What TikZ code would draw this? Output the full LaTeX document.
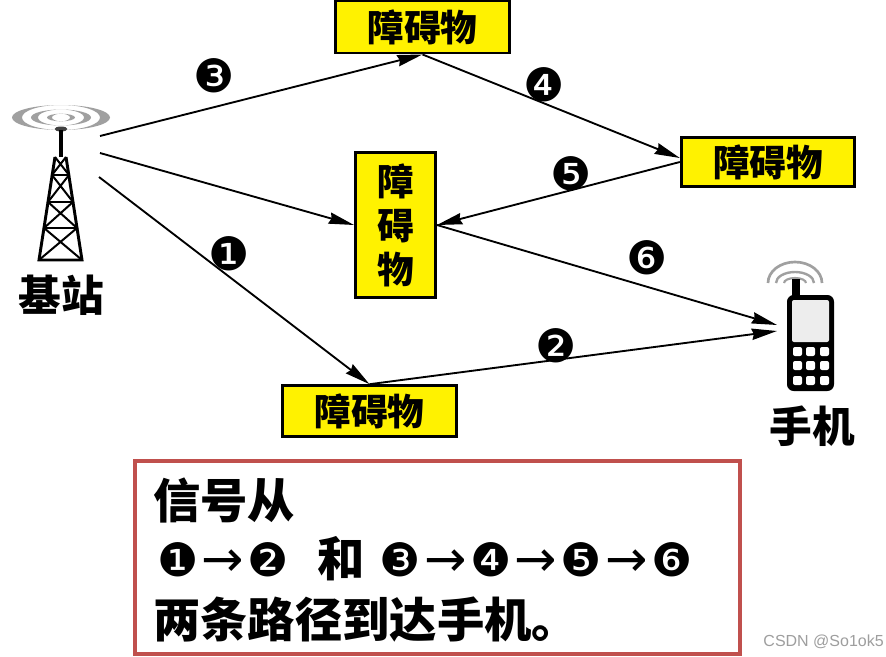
\documentclass[tikz,border=0pt]{standalone}
\usepackage{fontspec}
\usetikzlibrary{arrows.meta,calc}
\newfontfamily\cjk{Noto Sans CJK SC}[BoldFont={Noto Sans CJK SC Black}]
\newfontfamily\dingfont{DejaVu Sans}
\newfontfamily\wm{Liberation Sans}
\definecolor{boxred}{HTML}{C0504D}
\definecolor{ringgray}{HTML}{A0A0A0}
\tikzset{
  x=0.75pt,y=-0.75pt,
  obstacle/.style={draw=black,line width=2.2pt,fill=yellow,inner sep=0pt,font=\cjk\bfseries\fontsize{27.5}{33}\selectfont,align=center},
  bigtext/.style={font=\cjk\bfseries\fontsize{35.5}{35.5}\selectfont,anchor=west,inner sep=0pt},
  devlabel/.style={font=\cjk\bfseries\fontsize{32}{32}\selectfont,inner sep=0pt},
  num/.style={font=\dingfont\fontsize{34.5}{34.5}\selectfont,inner sep=0pt},
  path/.style={line width=1.4pt,-{Stealth[length=19pt,width=8.5pt,inset=1.5pt]}},
  tw/.style={line width=2.2pt,black},
}
\newcommand{\arr}{\makebox[37pt]{\dingfont\mdseries\fontsize{38}{38}\selectfont→}}
\newcommand{\cn}[1]{{\dingfont\mdseries\fontsize{34.5}{34.5}\selectfont #1}}
\begin{document}
\begin{tikzpicture}
\useasboundingbox (0,0) rectangle (886,657);
\fill[white] (0,0) rectangle (886,657);

% obstacles
\node[obstacle,minimum width=130pt,minimum height=39pt] (top) at (422.5,27) {障碍物};
\node[obstacle,minimum width=130pt,minimum height=37pt] (right) at (768,162) {障碍物};
\node[obstacle,minimum width=60pt,minimum height=109pt] (mid) at (395.5,225) {障\\[0pt]碍\\[0pt]物};
\node[obstacle,minimum width=130pt,minimum height=38pt] (bottom) at (369.5,411) {障碍物};

% tower
\fill[ringgray,even odd rule] (61,117.5) ellipse[x radius=49,y radius=12.5] ellipse[x radius=39,y radius=12.5];
\fill[ringgray,even odd rule] (61,117.5) ellipse[x radius=30,y radius=8] ellipse[x radius=23,y radius=8];
\fill[ringgray,even odd rule] (61,117.5) ellipse[x radius=14,y radius=3.8] ellipse[x radius=9,y radius=3.8];
\fill[black!75] (61,129) ellipse[x radius=6.5,y radius=2.5];
\draw[black,line width=2.6pt] (61,130) -- (61,157);
\draw[tw] (55,157) -- (39,260) -- (82,260) -- (66,157);
\draw[tw] (52,175) -- (69,175) (48,202) -- (73,202) (44,228) -- (77,228);
\draw[black,line width=1.5pt] (66,157) -- (52,175) -- (73,202) -- (44,228) -- (82,260)
  (55,157) -- (69,175) -- (48,202) -- (77,228) -- (39,260);
\node[devlabel] (base) at (61,295) {基站};
\coordinate (t1) at (100,136);
\coordinate (t2) at (100,153);
\coordinate (t3) at (99,177);

% phone
\draw[ringgray,line width=2pt] (795,283) ++(-27,0) arc[start angle=180,end angle=360,x radius=27,y radius=21];
\draw[ringgray,line width=1.8pt] (795,283) ++(-19,0) arc[start angle=180,end angle=360,x radius=19,y radius=11];
\draw[ringgray,line width=1.6pt] (795,283) ++(-11,0) arc[start angle=180,end angle=360,x radius=11,y radius=5];
\fill[black] (791.5,279) rectangle (799.5,298);
\fill[black,rounded corners=5pt] (787,295) rectangle (834,391);
\fill[white!93!black,rounded corners=1.5pt] (792,300) rectangle (829,342);
\foreach \ky in {347,361,376}{
  \foreach \kx in {793,806,820}{
    \fill[white,rounded corners=1.5pt] (\kx,\ky) rectangle ++(9,9);
  }
}
\node[devlabel] (hand) at (812,426) {手机};
\coordinate (p1) at (777,325);
\coordinate (p2) at (777,331);

% paths
\draw[path] (t1) -- (top.south);
\draw[path] (t2) -- (mid.west);
\draw[path] (t3) -- (bottom.north);
\draw[path] (top.south) -- ($(right.west)+(0,-4)$);
\draw[path] (right.west) -- (mid.east);
\draw[path] (mid.east) -- (p1);
\draw[path] (bottom.north) -- (p2);

% numbers
\node[num] (n1) at (229,254) {❶};
\node[num] (n2) at (556,346) {❷};
\node[num] (n3) at (214,76) {❸};
\node[num] (n4) at (544,85) {❹};
\node[num] (n5) at (571,174) {❺};
\node[num] (n6) at (647,258) {❻};

% summary
\draw[boxred,line width=3pt,fill=white] (135,461) rectangle (740,654);
\node[bigtext] (l1) at (153,500) {信号从};
\node[bigtext] (l2) at (157,559) {\cn{❶}\arr\cn{❷}\hspace{21pt}{\cjk\bfseries 和}\hspace{11.5pt}\cn{❸}\arr\cn{❹}\arr\cn{❺}\arr\cn{❻}};
\node[bigtext] (l3) at (153,620) {两条路径到达手机。};
\node[font=\wm\fontsize{12}{12}\selectfont,text=black!38,anchor=east,inner sep=0pt] (mark) at (884,642) {CSDN @So1ok5};
\end{tikzpicture}
\end{document}
